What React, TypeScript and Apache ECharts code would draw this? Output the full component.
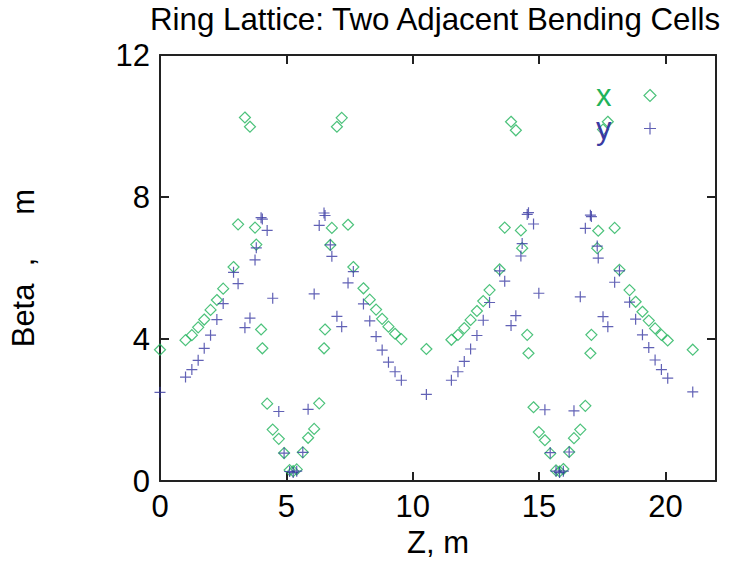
import React, { useEffect, useRef } from "react";
import * as echarts from "echarts";

const titleText = "Ring Lattice: Two Adjacent Bending Cells";
const xName = "Z, m";
const yName = "Beta  ,     m";
const xTicks = [0, 5, 10, 15, 20];
const yTicks = [0, 4, 8, 12];
const seriesNames = ["x", "y"];

const zPos = [
  0.0, 1.01, 1.26, 1.51, 1.75, 2.0, 2.25, 2.5, 2.91, 3.09, 3.36, 3.56, 3.76, 3.81, 4.0, 4.05,
  4.24, 4.46, 4.7, 4.91, 5.13, 5.27, 5.41, 5.65, 5.86, 6.1, 6.3, 6.49, 6.53, 6.74, 6.8, 7.0,
  7.19, 7.44, 7.65, 8.05, 8.3, 8.55, 8.79, 9.04, 9.3, 9.55, 10.54,
  11.53, 11.79, 12.04, 12.29, 12.54, 12.79, 13.04, 13.44, 13.64, 13.89, 14.08, 14.28, 14.33,
  14.53, 14.58, 14.78, 14.99, 15.23, 15.44, 15.67, 15.81, 15.96, 16.19, 16.38, 16.63, 16.83,
  17.03, 17.07, 17.3, 17.34, 17.53, 17.72, 17.99, 18.18, 18.58, 18.82, 19.09, 19.34, 19.59,
  19.84, 20.09, 21.08,
];

const betaX = [
  3.7, 3.97, 4.11, 4.33, 4.55, 4.82, 5.1, 5.42, 6.03, 7.23, 10.24, 9.98, 7.14, 6.66, 4.27, 3.74,
  2.18, 1.45, 1.19, 0.79, 0.31, 0.28, 0.33, 0.81, 1.22, 1.47, 2.19, 3.74, 4.27, 6.65, 7.13, 9.98,
  10.23, 7.22, 6.03, 5.43, 5.11, 4.83, 4.57, 4.35, 4.15, 4.0, 3.72,
  3.98, 4.12, 4.31, 4.54, 4.79, 5.07, 5.38, 5.96, 7.14, 10.12, 9.88, 7.06, 6.56,
  4.12, 3.6, 2.08, 1.38, 1.15, 0.78, 0.3, 0.27, 0.34, 0.82, 1.21, 1.45, 2.12,
  3.6, 4.12, 6.56, 7.05, 9.9, 10.12, 7.13, 5.95, 5.38, 5.05, 4.77, 4.52, 4.3,
  4.12, 3.96, 3.7,
];

const betaY = [
  2.5, 2.93, 3.14, 3.4, 3.74, 4.11, 4.55, 5.0, 5.88, 5.56, 4.32, 4.59, 6.23, 6.57, 7.42, 7.38,
  7.06, 5.15, 1.96, 0.79, 0.27, 0.24, 0.28, 0.81, 2.02, 5.27, 7.2, 7.55, 7.48, 6.65, 6.33, 4.64,
  4.35, 5.58, 5.9, 4.99, 4.51, 4.07, 3.69, 3.35, 3.08, 2.84, 2.44,
  2.84, 3.08, 3.37, 3.72, 4.1, 4.53, 5.03, 5.92, 5.63, 4.38, 4.66, 6.34, 6.69,
  7.51, 7.56, 7.24, 5.29, 2.01, 0.8, 0.28, 0.24, 0.28, 0.82, 1.98, 5.19, 7.12,
  7.49, 7.45, 6.62, 6.28, 4.63, 4.35, 5.6, 5.92, 5.04, 4.56, 4.12, 3.76, 3.41,
  3.14, 2.9, 2.51,
];

const GREEN = "#1fb35a";
const BLUE = "#3a3aa2";
const FONT = "'Liberation Sans', Arial, Helvetica, sans-serif";
const DIAMOND = "path://M5,0L10,5L5,10L0,5Z";
const PLUS = "path://M0,5H10M5,0V10";

export default function App() {
  const ref = useRef<HTMLDivElement>(null);
  useEffect(() => {
    document.body.style.margin = "0";
    const chart = echarts.init(ref.current!, null, { renderer: "svg" });
    const axisCommon = {
      type: "value" as const,
      axisLine: { show: true, onZero: false, lineStyle: { color: "#222", width: 2 } },
      axisTick: { show: true, inside: true, length: 9, lineStyle: { color: "#222", width: 2 } },
      splitLine: { show: false },
    };
    const labelStyle = { color: "#000", fontSize: 31, fontFamily: FONT };
    chart.setOption({
      animation: false,
      backgroundColor: "#fff",
      textStyle: { fontFamily: FONT },
      title: {
        text: titleText,
        left: 150,
        top: 4,
        padding: 0,
        textStyle: { fontSize: 31.3, fontWeight: "normal", color: "#000", fontFamily: FONT },
      },
      legend: {
        orient: "vertical",
        align: "right",
        left: 596,
        top: 80,
        padding: 0,
        itemGap: 2,
        itemWidth: 67,
        itemHeight: 12,
        symbolKeepAspect: true,
        itemStyle: { borderWidth: 1.2 },
        textStyle: { fontSize: 31, fontFamily: FONT, lineHeight: 29 },
        data: [
          { name: seriesNames[0], icon: DIAMOND, textStyle: { color: GREEN } },
          { name: seriesNames[1], icon: PLUS, textStyle: { color: BLUE } },
        ],
      },
      grid: { left: 160, right: 13, top: 55, bottom: 80.5, containLabel: false },
      xAxis: [
        {
          ...axisCommon,
          position: "bottom",
          min: 0,
          max: 22,
          interval: 5,
          name: xName,
          nameLocation: "middle",
          nameGap: 43,
          nameTextStyle: labelStyle,
          axisLabel: {
            ...labelStyle,
            margin: 10,
            formatter: (v: number) => (xTicks.includes(v) ? String(v) : ""),
          },
        },
        {
          ...axisCommon,
          position: "top",
          min: 0,
          max: 22,
          interval: 5,
          axisLabel: { show: false },
        },
      ],
      yAxis: [
        {
          ...axisCommon,
          position: "left",
          min: 0,
          max: 12,
          interval: 4,
          name: yName,
          nameLocation: "middle",
          nameGap: 121,
          nameRotate: 90,
          nameTextStyle: labelStyle,
          axisLabel: {
            ...labelStyle,
            margin: 10,
            formatter: (v: number) => (yTicks.includes(v) ? String(v) : ""),
          },
        },
        {
          ...axisCommon,
          position: "right",
          min: 0,
          max: 12,
          interval: 4,
          axisLabel: { show: false },
        },
      ],
      series: [
        {
          name: seriesNames[0],
          type: "scatter",
          xAxisIndex: 0,
          yAxisIndex: 0,
          symbol: DIAMOND,
          symbolSize: 11,
          itemStyle: { color: "rgba(0,0,0,0)", borderColor: GREEN, borderWidth: 1.2 },
          data: zPos.map((z, i) => [z, betaX[i]]),
        },
        {
          name: seriesNames[1],
          type: "scatter",
          xAxisIndex: 0,
          yAxisIndex: 0,
          symbol: PLUS,
          symbolSize: 11,
          itemStyle: { color: "rgba(0,0,0,0)", borderColor: BLUE, borderWidth: 1.2 },
          data: zPos.map((z, i) => [z, betaY[i]]),
        },
      ],
    });
    return () => chart.dispose();
  }, []);
  return <div ref={ref} style={{ width: 729, height: 563 }} />;
}
